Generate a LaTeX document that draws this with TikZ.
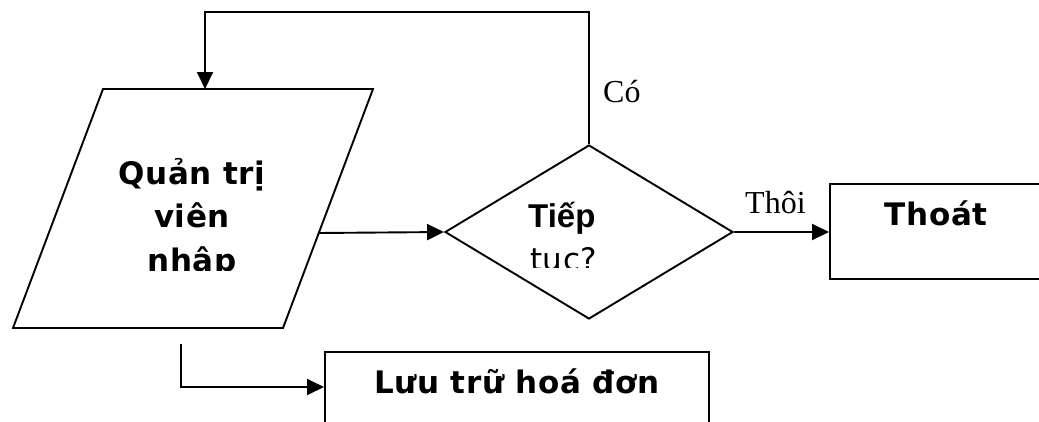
\documentclass[tikz,border=0pt]{standalone}
\usepackage{fontspec}
\setmainfont{Liberation Serif}
\newfontfamily\boxfont[LetterSpace=2]{DejaVu Sans}
\newfontfamily\plainsans{Liberation Sans}
\usetikzlibrary{arrows.meta,shapes.geometric}

\tikzset{
  line/.style={line width=1.9pt},
  arr/.style={line, -{Triangle[length=17pt,width=16pt]}},
  boxtext/.style={font=\boxfont\bfseries\fontsize{31}{43.5}\selectfont, inner sep=0pt},
  label/.style={font=\fontsize{32}{36}\selectfont, inner sep=0pt},
  rectbox/.style={draw, line, rectangle, inner sep=0pt},
}

\begin{document}
\begin{tikzpicture}[x=1pt,y=-1pt]
  \clip (0,0) rectangle (1039,421);

  % input parallelogram
  \coordinate (pTL) at (103,89);
  \coordinate (pTR) at (373,89);
  \coordinate (pBR) at (283,328);
  \coordinate (pBL) at (13,328);
  \draw[line, line join=miter] (pTL) -- (pTR) -- (pBR) -- (pBL) -- cycle;
  \coordinate (pin) at (205,89);
  \coordinate (pout) at (318,233);
  \coordinate (pdown) at (181,344);

  \begin{scope}
    \clip (90,100) rectangle (300,270);
    \node[boxtext, align=center, anchor=base] (input) at (192,271)
      {Quản trị\\viên\\nhập};
  \end{scope}

  % decision
  \node[diamond, draw, line, minimum width=288pt, minimum height=174pt,
        inner sep=0pt, aspect=1.655] (dec) at (589,232) {};
  \node[font=\plainsans\bfseries\fontsize{33}{45}\selectfont, inner sep=0pt,
        anchor=base west] (ask1) at (528,227) {Tiếp};
  \begin{scope}
    \clip (500,235) rectangle (650,267);
    \node[font=\boxfont\fontsize{31}{45}\selectfont, inner sep=0pt,
          anchor=base west] (ask2) at (530,270) {tục?};
  \end{scope}

  % exit box
  \node[rectbox, minimum width=240pt, minimum height=95pt, anchor=north west]
    (exit) at (829,183) {};
  \node[boxtext, anchor=base] (exitt) at (936,225) {Thoát};

  % store box
  \node[rectbox, minimum width=384pt, minimum height=120pt, anchor=north west]
    (store) at (324,351) {};
  \node[boxtext, anchor=base] (storet) at (517,393) {Lưu trữ hoá đơn};
  \coordinate (sin) at (324,387);

  % loop-back corner
  \coordinate (loop) at (205,12);

  % connectors
  \draw[arr] (pout) -- (dec.west);
  \draw[arr] (dec.north) |- (loop) -- (pin);
  \draw[arr] (dec.east) -- (dec.east -| exit.west);
  \draw[arr] (pdown) |- (sin);

  % branch labels
  \node[label, anchor=base west] (yes) at (603,102) {Có};
  \node[label, anchor=base west] (no) at (745,213) {Thôi};
\end{tikzpicture}
\end{document}
